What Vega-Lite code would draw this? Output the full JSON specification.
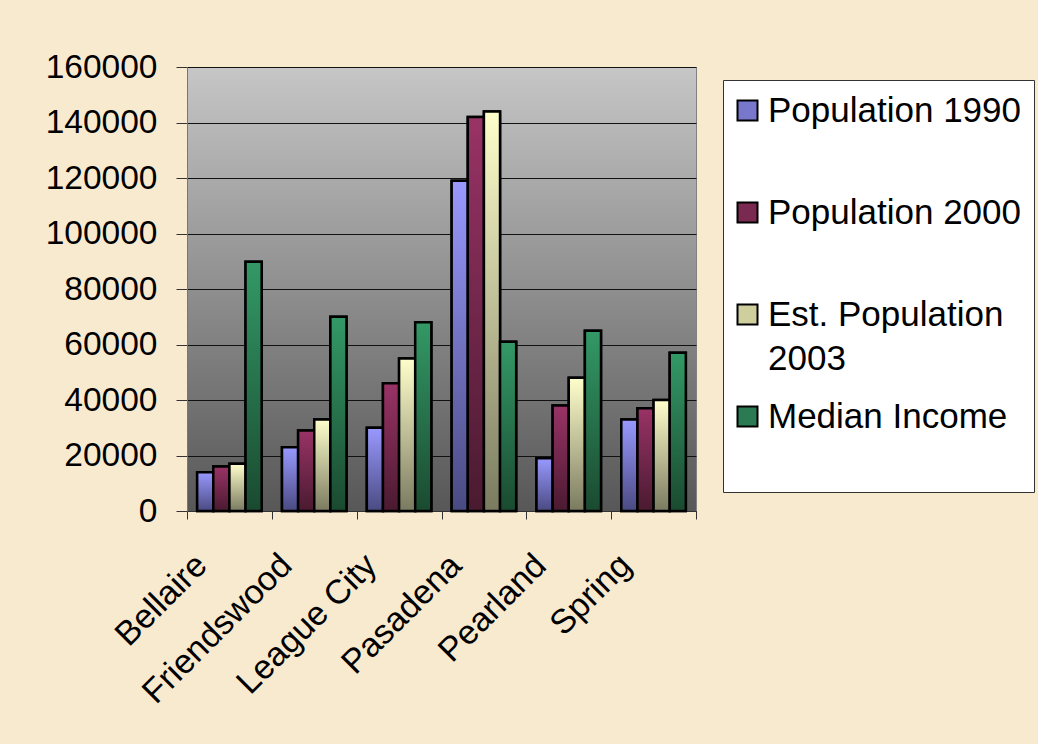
{
  "$schema": "https://vega.github.io/schema/vega-lite/v6.json",
  "width": 509,
  "height": 444,
  "autosize": {"type": "none"},
  "padding": {"left": 187, "top": 67, "right": 342, "bottom": 233},
  "background": "#f8eacf",
  "config": {
    "font": "Liberation Sans",
    "view": {
      "fill": {"gradient": "linear", "x1": 0, "y1": 0, "x2": 0, "y2": 1,
        "stops": [{"offset": 0, "color": "#c6c6c6"}, {"offset": 1, "color": "#575757"}]},
      "stroke": "#808080"
    }
  },
  "data": {
    "values": [
      {"city": "Bellaire", "series": "Population 1990", "value": 14000},
      {"city": "Bellaire", "series": "Population 2000", "value": 16000},
      {"city": "Bellaire", "series": "Est. Population 2003", "value": 17000},
      {"city": "Bellaire", "series": "Median Income", "value": 89800},
      {"city": "Friendswood", "series": "Population 1990", "value": 23000},
      {"city": "Friendswood", "series": "Population 2000", "value": 29000},
      {"city": "Friendswood", "series": "Est. Population 2003", "value": 33000},
      {"city": "Friendswood", "series": "Median Income", "value": 70000},
      {"city": "League City", "series": "Population 1990", "value": 30000},
      {"city": "League City", "series": "Population 2000", "value": 46000},
      {"city": "League City", "series": "Est. Population 2003", "value": 55000},
      {"city": "League City", "series": "Median Income", "value": 68000},
      {"city": "Pasadena", "series": "Population 1990", "value": 119000},
      {"city": "Pasadena", "series": "Population 2000", "value": 142000},
      {"city": "Pasadena", "series": "Est. Population 2003", "value": 144000},
      {"city": "Pasadena", "series": "Median Income", "value": 61000},
      {"city": "Pearland", "series": "Population 1990", "value": 19000},
      {"city": "Pearland", "series": "Population 2000", "value": 38000},
      {"city": "Pearland", "series": "Est. Population 2003", "value": 48000},
      {"city": "Pearland", "series": "Median Income", "value": 65000},
      {"city": "Spring", "series": "Population 1990", "value": 33000},
      {"city": "Spring", "series": "Population 2000", "value": 37000},
      {"city": "Spring", "series": "Est. Population 2003", "value": 40000},
      {"city": "Spring", "series": "Median Income", "value": 57000}
    ]
  },
  "encoding": {
    "x": {
      "field": "city", "type": "nominal",
      "sort": ["Bellaire", "Friendswood", "League City", "Pasadena", "Pearland", "Spring"],
      "scale": {"paddingInner": 0, "paddingOuter": 0},
      "axis": {
        "title": null, "labelAngle": -45, "labelAlign": "right", "labelBaseline": "alphabetic",
        "labelFontSize": 34, "labelColor": "#000", "labelPadding": 48, "labelOffset": -21,
        "tickBand": "extent", "tickSize": 8, "tickColor": "#333", "domainColor": "#333",
        "labelLimit": 400, "grid": false
      }
    },
    "xOffset": {
      "field": "series", "type": "nominal",
      "sort": ["Population 1990", "Population 2000", "Est. Population 2003", "Median Income"],
      "scale": {"paddingInner": 0, "paddingOuter": 0.63}
    },
    "y": {
      "field": "value", "type": "quantitative",
      "scale": {"domain": [0, 160000], "nice": false},
      "axis": {
        "title": null, "values": [0, 20000, 40000, 60000, 80000, 100000, 120000, 140000, 160000],
        "format": "d", "labelFontSize": 33.5, "labelColor": "#000", "labelPadding": 19,
        "tickSize": 11, "tickColor": "#333", "domainColor": "#777",
        "gridColor": "#111", "gridWidth": 1.2, "gridOpacity": 1
      }
    }
  },
  "layer": [
    {
      "mark": {"type": "bar", "stroke": "#000", "strokeWidth": 2.5},
      "encoding": {
        "color": {
          "field": "series", "type": "nominal",
          "sort": ["Population 1990", "Population 2000", "Est. Population 2003", "Median Income"],
          "scale": {
            "domain": ["Population 1990", "Population 2000", "Est. Population 2003", "Median Income"],
            "range": ["#7777cc", "#7a2950", "#cfcf9e", "#2a7a52"]
          },
          "legend": {
            "title": null, "orient": "none", "legendX": 536, "legendY": 13,
            "fillColor": "#ffffff", "strokeColor": "#333", "padding": 13,
            "labelFontSize": 35, "labelColor": "#000", "labelLimit": 400, "labelOffset": 3,
            "symbolOffset": -6,
            "symbolType": "square", "symbolSize": 400, "symbolStrokeColor": "#000",
            "symbolStrokeWidth": 2, "symbolOpacity": 1, "rowPadding": 22,
            "labelExpr": "datum.label == 'Est. Population 2003' ? ['Est. Population', '2003'] : [datum.label, '']",
            "encode": {"labels": {"update": {"lineHeight": {"value": 44}}}}
          }
        }
      }
    },
    {
      "mark": {"type": "bar", "stroke": "#000", "strokeWidth": 2.5},
      "encoding": {
        "fill": {
          "condition": [
            {"test": "datum.series === 'Population 1990'",
             "value": {"gradient": "linear", "x1": 0, "y1": 0, "x2": 0, "y2": 1,
               "stops": [{"offset": 0, "color": "#9999ff"}, {"offset": 1, "color": "#4a4a82"}]}},
            {"test": "datum.series === 'Population 2000'",
             "value": {"gradient": "linear", "x1": 0, "y1": 0, "x2": 0, "y2": 1,
               "stops": [{"offset": 0, "color": "#993366"}, {"offset": 1, "color": "#4a1a30"}]}},
            {"test": "datum.series === 'Est. Population 2003'",
             "value": {"gradient": "linear", "x1": 0, "y1": 0, "x2": 0, "y2": 1,
               "stops": [{"offset": 0, "color": "#ffffcc"}, {"offset": 1, "color": "#7a7a60"}]}}
          ],
          "value": {"gradient": "linear", "x1": 0, "y1": 0, "x2": 0, "y2": 1,
            "stops": [{"offset": 0, "color": "#339966"}, {"offset": 1, "color": "#1a4a30"}]}
        }
      }
    }
  ]
}
